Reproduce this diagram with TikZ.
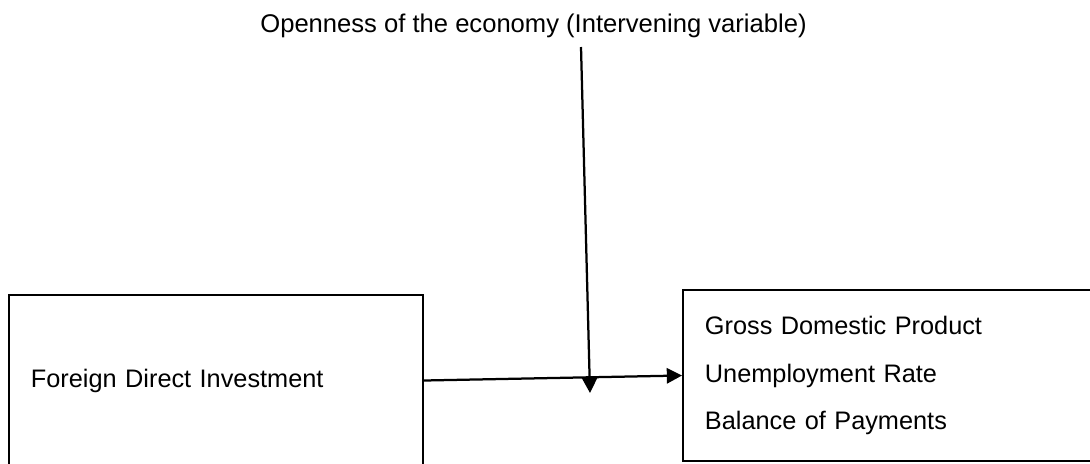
\documentclass[tikz,border=0pt]{standalone}
\usepackage{fontspec}
\setmainfont{Liberation Sans}
\usetikzlibrary{arrows.meta, positioning}
\tikzset{
  varbox/.style={rectangle, draw=black, line width=1.3pt, inner xsep=0.55cm,
                 align=left, font=\fontsize{18}{33.8}\selectfont},
  heading/.style={font=\fontsize{18.2}{22}\selectfont},
  link/.style={-{Triangle[length=0.38cm, width=0.38cm]}, line width=1.6pt},
}

\begin{document}
\begin{tikzpicture}[x=0.025cm, y=-0.025cm]
  \useasboundingbox (0,0) rectangle (1090,463);
  \clip (0,0) rectangle (1090,463);

  % Independent and dependent variables
  \node[varbox, text width=9.25cm, minimum height=4.275cm] (fdi) at (216,380.5)
    {Foreign Direct Investment};
  \node[varbox, text width=9.575cm, minimum height=4.275cm] (out) at (896.5,375.5)
    {Gross Domestic Product\\Unemployment Rate\\Balance of Payments};

  % Intervening variable
  \node[heading, anchor=base] (open) at (533.5,32)
    {Openness of the economy (Intervening variable)};
  \coordinate (tap) at (581,47);
  \coordinate (drop) at (590,393);

  \draw[link] (fdi.east) -- (out.west);
  \draw[link] (tap) -- (drop);

\end{tikzpicture}
\end{document}
